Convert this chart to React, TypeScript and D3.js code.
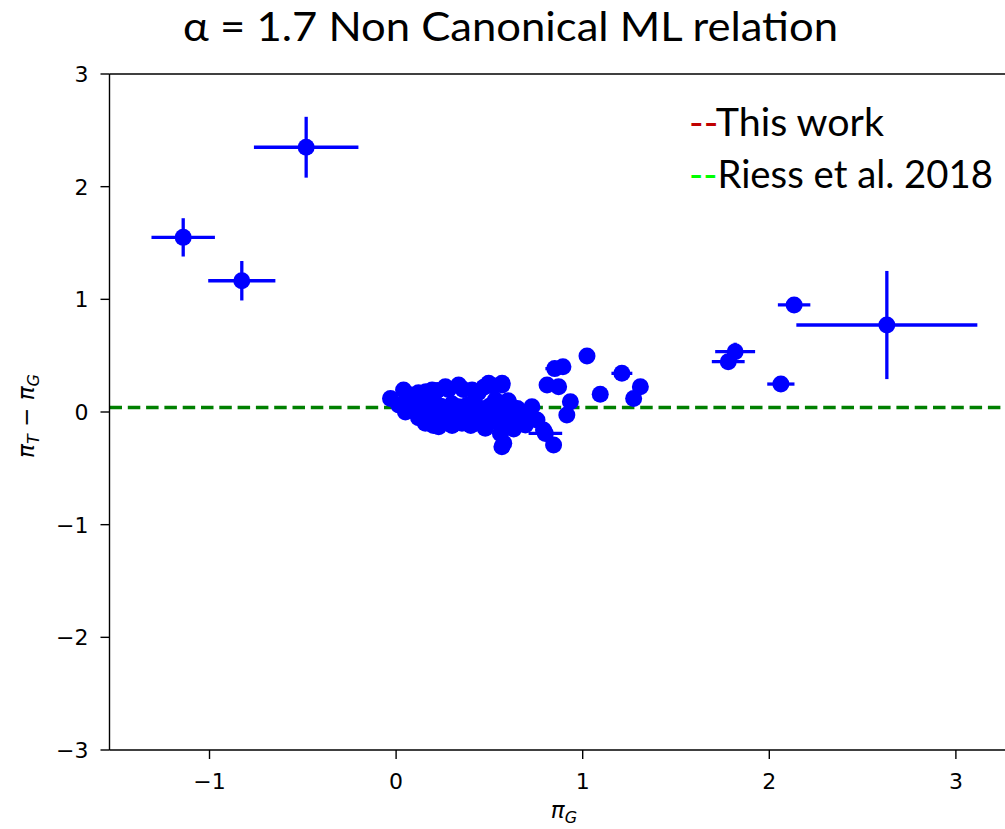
import React, { useRef, useEffect } from 'react';
import * as d3 from 'd3';

// error-bar points: x, y, xerr, yerr
const barX = [-0.482, -1.141, -0.827, 2.63, 2.133, 1.817, 1.78, 2.062, 1.21, 0.85, 0.80, 0.66];
const barY = [2.35, 1.55, 1.165, 0.772, 0.95, 0.535, 0.447, 0.248, 0.343, 0.385, -0.19, -0.1];
const barXErr = [0.28, 0.17, 0.18, 0.485, 0.087, 0.107, 0.088, 0.073, 0.056, 0.05, 0.09, 0.04];
const barYErr = [0.27, 0.17, 0.175, 0.48, 0.03, 0.08, 0.03, 0.02, 0.02, 0.02, 0.02, 0.02];

// central cluster (error bars smaller than the markers)
const clusterX = [
  -0.03, 0.04, 0.014, 0.086, 0.157, 0.228, 0.29, 0.353, 0.193, 0.264, 0.335, 0.407,
  0.496, 0.568, 0.148, 0.21, 0.335, 0.42, 0.496, 0.478, 0.559, 0.567, 0.62, 0.532,
  0.06, 0.103, 0.21, 0.28, 0.37, 0.425, 1.023, 0.894, 1.309, 1.273, 1.094, 0.809,
  0.871, 0.934, 0.915, 0.728, 0.603, 0.568, 0.577, 0.844, 0.693, 0.79, 0.755, 0.666,
  0.62,
  0.08, 0.12, 0.16, 0.22, 0.28, 0.36, 0.44, 0.47, 0.52,
  0.10, 0.14, 0.18, 0.24, 0.30, 0.38, 0.45, 0.50, 0.55,
  0.12, 0.18, 0.25, 0.32, 0.40, 0.46, 0.52, 0.05, 0.20, 0.30, 0.40,
  0.60, 0.65, 0.70, 0.58, 0.63
];
const clusterY = [
  0.12, 0.195, 0.062, 0.047, -0.1, -0.13, -0.086, -0.1, 0.195, 0.225, 0.24, 0.195,
  0.255, 0.24, 0.107, 0.08, 0.047, 0.08, -0.04, -0.145, -0.19, -0.308, 0.018, 0.107,
  0.14, 0.003, 0.003, 0.003, -0.01, -0.1, 0.497, 0.402, 0.225, 0.12, 0.157, 0.24,
  0.225, 0.09, -0.027, 0.047, 0.09, 0.255, -0.278, -0.293, -0.115, -0.16, -0.07, -0.07,
  0.0,
  0.15, 0.17, 0.18, 0.19, 0.2, 0.2, 0.17, 0.22, 0.23,
  0.06, 0.04, 0.06, 0.05, 0.07, 0.06, 0.03, 0.05, 0.02,
  -0.05, -0.06, -0.05, -0.06, -0.05, -0.08, -0.08, 0.0, -0.12, -0.12, -0.12,
  0.1, 0.03, -0.02, -0.1, -0.15
];

const riessLevel = 0.04;
const xTicks = [-1, 0, 1, 2, 3];
const yTicks = [-3, -2, -1, 0, 1, 2, 3];
const title = 'α = 1.7 Non Canonical ML relation';
const legendItems = [
  { dash: '--', color: '#c00000', label: 'This work', width: 195 },
  { dash: '--', color: '#00ff00', label: 'Riess et al. 2018', width: 304 },
];

const W = 1005;
const H = 829;

const App: React.FC = () => {
  const svgRef = useRef<SVGSVGElement>(null);

  useEffect(() => {
    if (!svgRef.current) return;
    const svg = d3.select(svgRef.current);
    svg.selectAll('*').remove();

    const left = 109.5, top = 74, bottom = 750, right = 1010;
    const x = d3.scaleLinear().domain([-1.536, 3.29]).range([left, right]);
    const y = d3.scaleLinear().domain([-3, 3]).range([bottom, top]);
    const blue = '#0000ff';
    const tickFont = 'DejaVu Sans, sans-serif';
    const fmt = (t: number) => (t < 0 ? '\u2212' + Math.abs(t) : String(t));

    // title
    svg.append('text')
      .attr('x', 183).attr('y', 41)
      .attr('textLength', 655).attr('lengthAdjust', 'spacingAndGlyphs')
      .style('font-family', 'Lato, Open Sans, sans-serif')
      .style('font-size', '41px')
      .style('fill', '#000')
      .text(title);

    const plot = svg.append('g');

    // Riess et al. line
    plot.append('line')
      .attr('x1', left).attr('x2', right)
      .attr('y1', y(riessLevel)).attr('y2', y(riessLevel))
      .style('stroke', '#008000')
      .style('stroke-width', 3.3)
      .style('stroke-dasharray', '12.5,5.8');

    // error bars
    const bars = plot.append('g');
    barX.forEach((bx, i) => {
      bars.append('line')
        .attr('x1', x(bx - barXErr[i])).attr('x2', x(bx + barXErr[i]))
        .attr('y1', y(barY[i])).attr('y2', y(barY[i]))
        .style('stroke', blue).style('stroke-width', 3.3);
      bars.append('line')
        .attr('x1', x(bx)).attr('x2', x(bx))
        .attr('y1', y(barY[i] - barYErr[i])).attr('y2', y(barY[i] + barYErr[i]))
        .style('stroke', blue).style('stroke-width', 3.3);
    });

    // markers
    const markers = plot.append('g');
    clusterX.forEach((cx, i) => {
      markers.append('circle')
        .attr('cx', x(cx)).attr('cy', y(clusterY[i])).attr('r', 8.5)
        .style('fill', blue);
    });
    barX.forEach((bx, i) => {
      markers.append('circle')
        .attr('cx', x(bx)).attr('cy', y(barY[i])).attr('r', 8.5)
        .style('fill', blue);
    });

    // spines
    const axes = svg.append('g').style('stroke', '#000').style('stroke-width', 1.4);
    axes.append('line').attr('x1', left).attr('x2', left).attr('y1', top).attr('y2', bottom);
    axes.append('line').attr('x1', left).attr('x2', right).attr('y1', top).attr('y2', top);
    axes.append('line').attr('x1', left).attr('x2', right).attr('y1', bottom).attr('y2', bottom);

    // ticks
    xTicks.forEach(t => {
      axes.append('line').attr('x1', x(t)).attr('x2', x(t)).attr('y1', bottom).attr('y2', bottom + 9);
      svg.append('text')
        .attr('x', x(t)).attr('y', bottom + 39)
        .attr('text-anchor', 'middle')
        .style('font-family', tickFont).style('font-size', '22px').style('fill', '#000')
        .text(fmt(t));
    });
    yTicks.forEach(t => {
      axes.append('line').attr('x1', left - 9).attr('x2', left).attr('y1', y(t)).attr('y2', y(t));
      svg.append('text')
        .attr('x', left - 21).attr('y', y(t) + 8)
        .attr('text-anchor', 'end')
        .style('font-family', tickFont).style('font-size', '22px').style('fill', '#000')
        .text(fmt(t));
    });

    // x label
    const xl = svg.append('text')
      .attr('x', 564).attr('y', 818)
      .attr('text-anchor', 'middle')
      .style('font-family', tickFont).style('font-size', '23px').style('font-style', 'italic').style('fill', '#000');
    xl.append('tspan').text('π');
    xl.append('tspan').attr('dy', 5).style('font-size', '16px').text('G');

    // y label
    const yl = svg.append('text')
      .attr('transform', `translate(34,${y(0) + 4}) rotate(-90)`)
      .attr('text-anchor', 'middle')
      .style('font-family', tickFont).style('font-size', '23px').style('fill', '#000');
    yl.append('tspan').style('font-style', 'italic').text('π');
    yl.append('tspan').attr('dy', 5).style('font-size', '16px').style('font-style', 'italic').text('T');
    yl.append('tspan').attr('dy', -5).text(' \u2212 ');
    yl.append('tspan').style('font-style', 'italic').text('π');
    yl.append('tspan').attr('dy', 5).style('font-size', '16px').style('font-style', 'italic').text('G');

    // legend (text with coloured dashes)
    legendItems.forEach((item, i) => {
      const t = svg.append('text')
        .attr('x', 689).attr('y', 136 + i * 52)
        .attr('textLength', item.width).attr('lengthAdjust', 'spacingAndGlyphs')
        .style('font-family', 'Lato, Open Sans, sans-serif')
        .style('font-size', '39px');
      t.append('tspan').style('fill', item.color).text(item.dash);
      t.append('tspan').style('fill', '#000').text(item.label);
    });
  }, []);

  return (
    <div style={{ position: 'absolute', left: 0, top: 0, width: W, height: H, overflow: 'hidden', background: '#fff' }}>
      <svg ref={svgRef} width={W} height={H} style={{ display: 'block', background: '#fff' }} />
    </div>
  );
};

export default App;
